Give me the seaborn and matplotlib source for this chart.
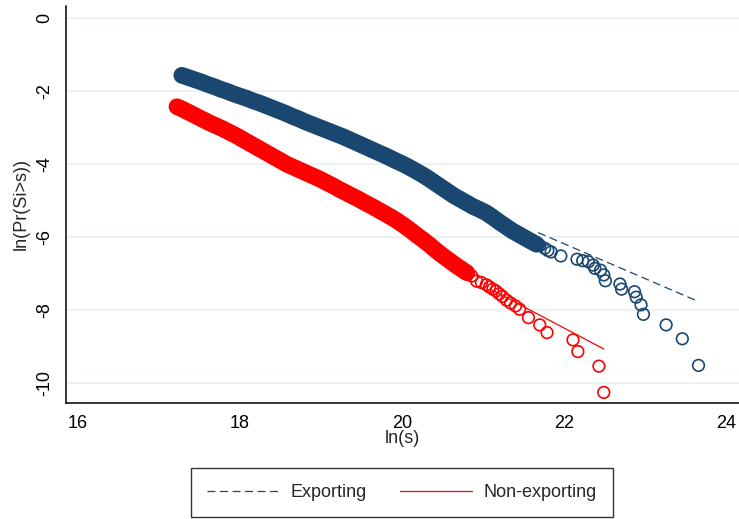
import numpy as np
import pandas as pd
import matplotlib
matplotlib.use("Agg")
import matplotlib.pyplot as plt
import seaborn as sns

# ---- data ----
# dense part of the exporting firms (points overlap into a solid band)
exp_dense_x = [17.28, 17.36, 17.44, 17.52, 17.60, 17.68, 17.76, 17.84, 17.92, 18.00,
               18.08, 18.16, 18.24, 18.32, 18.40, 18.48, 18.56, 18.64, 18.72, 18.80,
               18.88, 18.96, 19.04, 19.12, 19.20, 19.28, 19.36, 19.44, 19.52, 19.60,
               19.68, 19.76, 19.84, 19.92, 20.00, 20.08, 20.16, 20.24, 20.32, 20.40,
               20.48, 20.56, 20.64, 20.72, 20.80, 20.88, 20.96, 21.04, 21.12, 21.20,
               21.28, 21.36, 21.44, 21.52, 21.60, 21.66]
exp_dense_y = [-1.56, -1.62, -1.68, -1.74, -1.81, -1.87, -1.94, -2.00, -2.07, -2.13,
               -2.19, -2.26, -2.32, -2.39, -2.46, -2.53, -2.60, -2.68, -2.75, -2.83,
               -2.90, -2.97, -3.04, -3.11, -3.18, -3.25, -3.33, -3.41, -3.49, -3.57,
               -3.65, -3.73, -3.81, -3.90, -3.98, -4.07, -4.17, -4.27, -4.38, -4.50,
               -4.62, -4.74, -4.86, -4.96, -5.06, -5.16, -5.24, -5.33, -5.45, -5.58,
               -5.70, -5.82, -5.92, -6.02, -6.12, -6.19]
# sparse tail of the exporting firms
exp_tail_x = [21.70, 21.76, 21.80, 21.84, 21.96, 22.16, 22.23, 22.30, 22.36, 22.38,
              22.45, 22.49, 22.51, 22.69, 22.71, 22.87, 22.89, 22.95, 22.98, 23.26,
              23.46, 23.66]
exp_tail_y = [-6.22, -6.30, -6.36, -6.40, -6.51, -6.60, -6.64, -6.67, -6.76, -6.85,
              -6.90, -7.03, -7.19, -7.28, -7.42, -7.49, -7.64, -7.85, -8.11, -8.40,
              -8.78, -9.51]

# non-exporting firms
non_dense_x = [17.22, 17.30, 17.38, 17.46, 17.54, 17.62, 17.70, 17.78, 17.86, 17.94,
               18.02, 18.10, 18.18, 18.26, 18.34, 18.42, 18.50, 18.58, 18.66, 18.74,
               18.82, 18.90, 18.98, 19.06, 19.14, 19.22, 19.30, 19.38, 19.46, 19.54,
               19.62, 19.70, 19.78, 19.86, 19.94, 20.02, 20.10, 20.18, 20.26, 20.34,
               20.42, 20.50, 20.58, 20.66, 20.74, 20.80]
non_dense_y = [-2.42, -2.50, -2.59, -2.68, -2.77, -2.86, -2.94, -3.02, -3.11, -3.20,
               -3.30, -3.40, -3.50, -3.60, -3.70, -3.80, -3.90, -4.00, -4.08, -4.16,
               -4.24, -4.32, -4.40, -4.49, -4.58, -4.68, -4.77, -4.86, -4.95, -5.05,
               -5.14, -5.24, -5.34, -5.44, -5.55, -5.67, -5.80, -5.94, -6.07, -6.21,
               -6.36, -6.50, -6.63, -6.76, -6.88, -6.97]
non_tail_x = [20.86, 20.92, 20.98, 21.04, 21.08, 21.12, 21.16, 21.20, 21.24, 21.29,
              21.34, 21.40, 21.45, 21.56, 21.70, 21.79, 22.11, 22.17, 22.43, 22.49]
non_tail_y = [-7.06, -7.20, -7.24, -7.30, -7.36, -7.42, -7.47, -7.55, -7.62, -7.72,
              -7.80, -7.88, -7.97, -8.20, -8.40, -8.61, -8.81, -9.13, -9.53, -10.25]

# fitted tail lines
exp_fit_x = [21.68, 23.64]
exp_fit_y = [-5.87, -7.74]
non_fit_x = [21.10, 22.49]
non_fit_y = [-7.43, -9.06]

x_ticks = [16, 18, 20, 22, 24]
y_ticks = [0, -2, -4, -6, -8, -10]

navy = "#1a476f"
red = "#ff0000"

sns.set_theme(style="white")
plt.rcParams["font.family"] = ["Liberation Sans", "DejaVu Sans"]
plt.rcParams["font.size"] = 13

fig = plt.figure(figsize=(7.39, 5.19), dpi=100)
ax = fig.add_axes([66 / 739, 1 - 403 / 519, 1 - 66 / 739, 397 / 519])

# dense bands: overlapping markers, with a wide stroke along them so the
# band edges stay smooth like the overplotted cloud in the original
for xs, ys, col in [(exp_dense_x, exp_dense_y, navy), (non_dense_x, non_dense_y, red)]:
    sns.lineplot(x=xs, y=ys, ax=ax, color=col, lw=12, sort=False,
                 solid_capstyle="round", solid_joinstyle="round", legend=False, zorder=3)
    sns.scatterplot(x=xs, y=ys, ax=ax, color=col, s=85, edgecolor=col,
                    linewidth=0.8, legend=False, zorder=3)

# hollow tails
sns.scatterplot(x=exp_tail_x, y=exp_tail_y, ax=ax, facecolors="none", s=70,
                edgecolor=navy, linewidth=1.2, legend=False, zorder=3)
sns.scatterplot(x=non_tail_x, y=non_tail_y, ax=ax, facecolors="none", s=70,
                edgecolor=red, linewidth=1.2, legend=False, zorder=3)

# fitted lines
ax.plot(exp_fit_x, exp_fit_y, color=navy, lw=0.9, linestyle=(0, (6.4, 3.6)),
        label="Exporting", zorder=2)
ax.plot(non_fit_x, non_fit_y, color=red, lw=0.9, label="Non-exporting", zorder=2)

ax.set_xlim(15.85, 24.16)
ax.set_ylim(-10.54, 0.34)
ax.set_xticks(x_ticks)
ax.set_yticks(y_ticks)
ax.set_yticklabels([str(v) for v in y_ticks], rotation=90, va="center")
ax.yaxis.grid(True, color="#e6eff1", lw=1.1)
ax.xaxis.grid(False)
ax.set_axisbelow(True)

for side in ["top", "right"]:
    ax.spines[side].set_visible(False)
for side in ["left", "bottom"]:
    ax.spines[side].set_color("black")
    ax.spines[side].set_linewidth(1.1)
ax.tick_params(axis="both", which="major", direction="out", length=5.5, width=1.0,
               color="black", labelsize=13, labelcolor="black")
ax.tick_params(axis="x", pad=3)
ax.tick_params(axis="y", pad=4)

ax.set_xlabel("ln(s)", fontsize=13, labelpad=-1)
ax.set_ylabel("ln(Pr(Si>s))", fontsize=13, labelpad=4)

handles, labels = ax.get_legend_handles_labels()
leg = fig.legend(handles, labels, loc="lower center", ncol=2,
                 bbox_to_anchor=(402 / 739, 0.0), frameon=True, fancybox=False,
                 handlelength=4.0, handletextpad=0.65, columnspacing=1.8,
                 borderpad=0.9, borderaxespad=0.1, fontsize=13)
leg.get_frame().set_edgecolor("black")
leg.get_frame().set_linewidth(1.0)

fig.savefig("out.png", dpi=100)
